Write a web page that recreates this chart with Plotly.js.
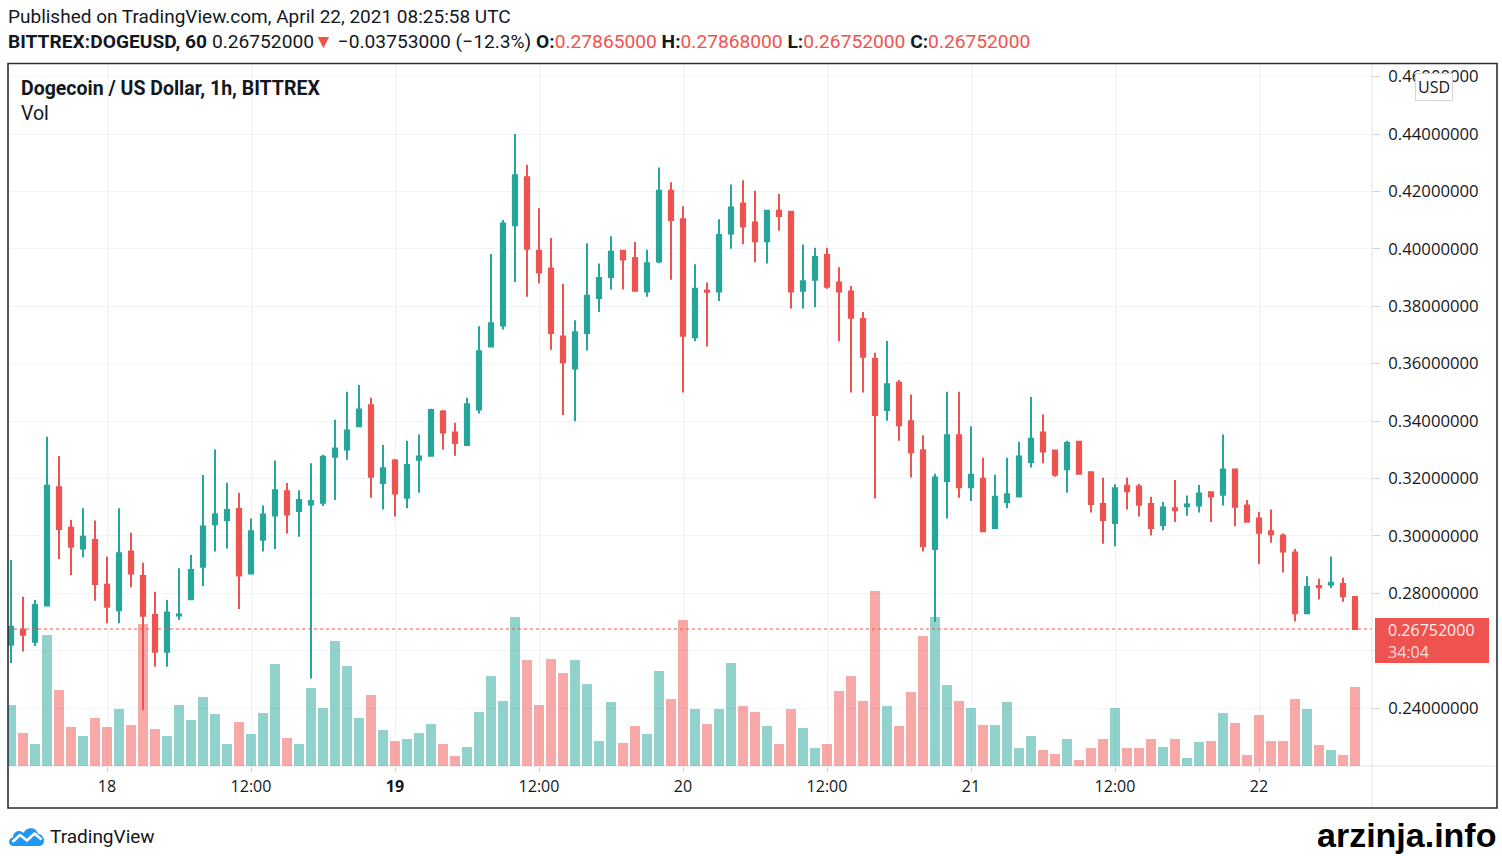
<!DOCTYPE html>
<html>
<head>
<meta charset="utf-8">
<script src="https://cdn.plot.ly/plotly-3.0.1.min.js"></script>
<style>
html,body{margin:0;padding:0;background:#fff;}
#chart{width:1502px;height:856px;}
</style>
</head>
<body>
<div id="chart"></div>
<script>
// Hourly candles BITTREX:DOGEUSD, first candle 2021-04-17 16:00 UTC
const startTime = '2021-04-17T16:00:00Z';
const open = [
0.2620,0.2673,0.2631,0.2757,0.3169,0.3028,0.2956,0.2985,0.2829,0.2741,
0.2945,0.2860,0.2724,0.2596,0.2722,0.2779,0.2892,0.3040,0.3055,0.3093,
0.2869,0.2986,0.3071,0.3155,0.3086,0.3109,0.3115,0.3275,0.3301,0.3382,
0.3455,0.3184,0.3262,0.3133,0.3265,0.3279,0.3433,0.3360,0.3316,0.3440,
0.3660,0.3733,0.4082,0.4249,0.3993,0.3931,0.3694,0.3583,0.3707,0.3829,
0.3902,0.3993,0.3968,0.3851,0.3956,0.4202,0.4103,0.3692,0.3855,0.3851,
0.4053,0.4158,0.4092,0.4026,0.4133,0.4129,0.3854,0.3892,0.3978,0.3883,
0.3851,0.3755,0.3616,0.3438,0.3533,0.3399,0.3298,0.2954,0.3191,0.3350,
0.3169,0.3199,0.3027,0.3118,0.3137,0.3257,0.3360,0.3297,0.3232,0.3328,
0.3221,0.3111,0.3045,0.3174,0.3172,0.3111,0.3038,0.3096,0.3103,0.3106,
0.3152,0.3143,0.3231,0.3106,0.3060,0.3016,0.3001,0.2942,0.2730,0.2825,
0.2830,0.2832,0.27865];
const high = [
0.2916,0.2788,0.2776,0.3345,0.3278,0.3055,0.3096,0.3053,0.2927,0.3096,
0.3011,0.2906,0.2805,0.2776,0.2887,0.2933,0.3212,0.3301,0.3185,0.3150,
0.3060,0.3106,0.3262,0.3184,0.3159,0.3253,0.3282,0.3404,0.3502,0.3525,
0.3481,0.3316,0.3268,0.3331,0.3353,0.3443,0.3438,0.3394,0.3481,0.3730,
0.3982,0.4100,0.4400,0.4293,0.4141,0.4038,0.3877,0.3751,0.4019,0.3949,
0.4044,0.3995,0.4024,0.3997,0.4283,0.4232,0.4148,0.3946,0.3883,0.4103,
0.4224,0.4239,0.4202,0.4135,0.4191,0.4131,0.4015,0.4004,0.4004,0.3936,
0.3870,0.3780,0.3638,0.3679,0.3543,0.3492,0.3350,0.3216,0.3502,0.3502,
0.3382,0.3272,0.3213,0.3272,0.3328,0.3484,0.3423,0.3299,0.3331,0.3330,
0.3224,0.3203,0.3180,0.3203,0.3181,0.3136,0.3118,0.3194,0.3140,0.3177,
0.3154,0.3353,0.3233,0.3125,0.3084,0.3092,0.3008,0.2954,0.2859,0.2850,
0.2928,0.2854,0.27868];
const low = [
0.2557,0.2597,0.2616,0.2755,0.2919,0.2863,0.2925,0.2774,0.2695,0.2695,
0.2821,0.2393,0.2544,0.2544,0.2707,0.2778,0.2825,0.2945,0.2956,0.2745,
0.2865,0.2945,0.2954,0.3008,0.2997,0.2503,0.3104,0.3125,0.3265,0.3380,
0.3133,0.3092,0.3067,0.3096,0.3150,0.3276,0.3301,0.3279,0.3314,0.3426,
0.3658,0.3719,0.3884,0.3833,0.3880,0.3648,0.3421,0.3399,0.3646,0.3780,
0.3858,0.3858,0.3854,0.3833,0.3950,0.3892,0.3499,0.3678,0.3660,0.3818,
0.4000,0.4016,0.3953,0.3949,0.4063,0.3792,0.3792,0.3796,0.3861,0.3678,
0.3499,0.3499,0.3130,0.3401,0.3331,0.3203,0.2945,0.2700,0.3060,0.3133,
0.3121,0.3013,0.3025,0.3096,0.3135,0.3238,0.3253,0.3206,0.3150,0.3214,
0.3081,0.2972,0.2964,0.3092,0.3067,0.3001,0.3019,0.3048,0.3070,0.3081,
0.3048,0.3106,0.3033,0.3049,0.2901,0.2976,0.2872,0.2701,0.2728,0.2778,
0.2818,0.2770,0.26752];
const close = [
0.2683,0.2655,0.2759,0.3174,0.3024,0.2962,0.2997,0.2832,0.2753,0.2939,
0.2869,0.2721,0.2596,0.2733,0.2726,0.2881,0.3032,0.3075,0.3090,0.2862,
0.3016,0.3074,0.3159,0.3074,0.3125,0.3121,0.3275,0.3304,0.3367,0.3440,
0.3206,0.3235,0.3147,0.3247,0.3276,0.3438,0.3360,0.3323,0.3458,0.3643,
0.3741,0.4088,0.4256,0.4000,0.3917,0.3707,0.3605,0.3709,0.3836,0.3898,
0.3990,0.3963,0.3854,0.3950,0.4202,0.4100,0.3697,0.3861,0.3850,0.4048,
0.4144,0.4078,0.4026,0.4133,0.4114,0.3851,0.3887,0.3971,0.3868,0.3851,
0.3760,0.3624,0.3421,0.3528,0.3385,0.3290,0.2964,0.3203,0.3350,0.3169,
0.3213,0.3016,0.3136,0.3145,0.3276,0.3338,0.3294,0.3213,0.3323,0.3216,
0.3111,0.3055,0.3166,0.3155,0.3108,0.3027,0.3099,0.3089,0.3109,0.3147,
0.3137,0.3231,0.3101,0.3049,0.3011,0.3005,0.2945,0.2730,0.2822,0.2821,
0.2836,0.2789,0.26752];
const volume = [
61,33,22,131,76,39,30,48,39,57,
41,142,37,30,61,46,69,52,22,44,
32,53,102,28,22,78,58,125,100,48,
71,36,25,27,33,42,22,10,19,54,
90,65,149,106,61,107,93,106,82,25,
64,23,40,32,95,67,146,57,42,57,
103,60,54,40,22,57,38,18,22,75,
90,65,175,60,40,74,130,149,81,65,
58,41,41,64,18,30,16,12,27,6,
18,27,58,18,18,27,19,27,8,24,
25,53,43,11,51,25,25,67,57,21,
16,11,79];
const timeTickVals = ['2021-04-18 00:00','2021-04-18 12:00','2021-04-19 00:00','2021-04-19 12:00','2021-04-20 00:00','2021-04-20 12:00','2021-04-21 00:00','2021-04-21 12:00','2021-04-22 00:00'];
const timeTickText = ['18','12:00','<b>19</b>','12:00','20','12:00','21','12:00','22'];
const priceTickVals = [0.24,0.26,0.28,0.30,0.32,0.34,0.36,0.38,0.40,0.42,0.44,0.46];
const lastPrice = 0.26752;
const countdown = '34:04';

const UP = '#26a69a', DOWN = '#ef5350';
const t0 = Date.parse(startTime);
const times = open.map((_, i) => new Date(t0 + i * 3600000).toISOString().slice(0, 16).replace('T', ' '));
const volColors = open.map((o, i) => close[i] >= o ? 'rgba(38,166,154,0.5)' : 'rgba(239,83,80,0.5)');

// plot area: x 8..1372, y 64..766
const PL = 8, PR = 1372, PT = 64, PB = 766;
const PW = PR - PL, PH = PB - PT;
const px = x => (x - PL) / PW;
const py = y => (PB - y) / PH;

const traces = [
  {type: 'bar', x: times, y: volume, yaxis: 'y', marker: {color: volColors, line: {width: 0}}, hoverinfo: 'skip', showlegend: false},
  {type: 'candlestick', x: times, open: open, high: high, low: low, close: close, yaxis: 'y2',
   increasing: {line: {color: UP, width: 2}, fillcolor: UP},
   decreasing: {line: {color: DOWN, width: 2}, fillcolor: DOWN},
   whiskerwidth: 0, hoverinfo: 'skip', showlegend: false}
];

const txt = '#131722';
const headerFont = 'Roboto, "Open Sans", sans-serif';
const line2 = '<b>BITTREX:DOGEUSD, 60</b> 0.26752000<span style="color:#ef5350">▼</span> −0.03753000 (−12.3%) ' +
  '<b>O:</b><span style="color:#ef5350">0.27865000</span> <b>H:</b><span style="color:#ef5350">0.27868000</span> ' +
  '<b>L:</b><span style="color:#ef5350">0.26752000</span> <b>C:</b><span style="color:#ef5350">0.26752000</span>';

const logoSvg = "<svg xmlns='http://www.w3.org/2000/svg' width='38' height='22' viewBox='0 0 38 22'>" +
  "<path d='M5 21 C0 21 -0.5 13 5 12.5 C5 6 12 4 15.5 8 C18 1.5 28.5 1.5 30 9 C37 9 38.5 21 31 21 Z' fill='#2196f3'/>" +
  "<path d='M4.5 17 L12 10 L19 15.5 L26.5 8.5 L33.5 14.5' stroke='white' stroke-width='2.6' fill='none' stroke-linejoin='round'/></svg>";

const layout = {
  width: 1502, height: 856,
  margin: {l: PL, r: 1502 - PR, t: PT, b: 856 - PB, pad: 0},
  paper_bgcolor: '#ffffff', plot_bgcolor: '#ffffff',
  showlegend: false,
  bargap: 0.17,
  boxgap: 0.5,
  font: {family: '"Open Sans", sans-serif', color: txt},
  xaxis: {
    type: 'date',
    range: ['2021-04-17 15:45', '2021-04-22 09:25'],
    rangeslider: {visible: false},
    tickmode: 'array', tickvals: timeTickVals, ticktext: timeTickText,
    showgrid: true, gridcolor: '#f0f3fa', gridwidth: 1,
    ticks: 'outside', ticklen: 5, tickcolor: '#d1d4dc',
    ticklabelstandoff: 1,
    tickfont: {size: 16, color: txt, family: '"Open Sans", sans-serif'},
    showline: false, zeroline: false, fixedrange: true
  },
  yaxis: {range: [0, PH], visible: false, fixedrange: true, showgrid: false, zeroline: false},
  yaxis2: {
    overlaying: 'y', side: 'right',
    range: [0.21979, 0.46439],
    tickmode: 'array', tickvals: priceTickVals,
    // the 0.26 label sits under the last-price tag, as in the reference
    ticktext: priceTickVals.map(v => Math.abs(v - 0.26) < 1e-9 ? '' : v.toFixed(8)),
    showgrid: true, gridcolor: '#f0f3fa', gridwidth: 1,
    ticks: 'outside', ticklen: 7, tickcolor: '#d1d4dc',
    ticklabelstandoff: 5,
    tickfont: {size: 16.7, color: txt, family: '"Open Sans", sans-serif'},
    showline: false, zeroline: false, fixedrange: true
  },
  shapes: [
    {type: 'line', xref: 'paper', yref: 'y2', x0: 0, x1: 1, y0: lastPrice, y1: lastPrice,
     line: {color: DOWN, width: 1, dash: 'dot'}, layer: 'above'},
    {type: 'line', xref: 'paper', yref: 'paper', x0: 1, x1: 1, y0: py(808), y1: 1,
     line: {color: '#e0e3eb', width: 1}, layer: 'above'},
    {type: 'line', xref: 'paper', yref: 'paper', x0: 0, x1: px(1497), y0: 0, y1: 0,
     line: {color: '#e0e3eb', width: 1}, layer: 'below'},
    {type: 'rect', xref: 'paper', yref: 'paper', x0: px(1375), x1: px(1489), y0: py(663), y1: py(618),
     line: {width: 0}, fillcolor: DOWN, layer: 'above'},
    {type: 'rect', xref: 'paper', yref: 'paper', x0: px(8), x1: px(1497), y0: py(808), y1: py(63.5),
     line: {color: '#2a2e39', width: 1.6}, fillcolor: 'rgba(0,0,0,0)', layer: 'above'}
  ],
  images: [
    {source: 'data:image/svg+xml;utf8,' + encodeURIComponent(logoSvg),
     xref: 'paper', yref: 'paper', x: px(8), y: py(825), sizex: 38 / PW, sizey: 22 / PH,
     xanchor: 'left', yanchor: 'top', sizing: 'stretch', layer: 'above'}
  ],
  annotations: [
    {xref: 'paper', yref: 'paper', x: px(6), y: py(16), xanchor: 'left', yanchor: 'middle', showarrow: false,
     text: 'Published on TradingView.com, April 22, 2021 08:25:58 UTC', font: {size: 19, color: txt, family: headerFont}},
    {xref: 'paper', yref: 'paper', x: px(6), y: py(42), xanchor: 'left', yanchor: 'middle', showarrow: false,
     text: line2, font: {size: 19.2, color: txt, family: headerFont}},
    {xref: 'paper', yref: 'paper', x: px(19), y: py(88), xanchor: 'left', yanchor: 'middle', showarrow: false,
     text: '<b>Dogecoin / US Dollar, 1h, BITTREX</b>', font: {size: 19.5, color: txt, family: headerFont}},
    {xref: 'paper', yref: 'paper', x: px(19), y: py(113), xanchor: 'left', yanchor: 'middle', showarrow: false,
     text: 'Vol', font: {size: 19.5, color: txt, family: headerFont}},
    {xref: 'paper', yref: 'paper', x: px(1434), y: py(87), xanchor: 'center', yanchor: 'middle', showarrow: false,
     text: 'USD', font: {size: 16, color: txt, family: '"Open Sans", sans-serif'},
     bgcolor: '#ffffff', bordercolor: '#d1d4dc', borderwidth: 1, borderpad: 2},
    {xref: 'paper', yref: 'paper', x: px(1386), y: py(630), xanchor: 'left', yanchor: 'middle', showarrow: false,
     text: lastPrice.toFixed(8), font: {size: 16, color: 'rgba(255,255,255,0.92)', family: '"Open Sans", sans-serif'}},
    {xref: 'paper', yref: 'paper', x: px(1386), y: py(652), xanchor: 'left', yanchor: 'middle', showarrow: false,
     text: countdown, font: {size: 16, color: 'rgba(255,255,255,0.8)', family: '"Open Sans", sans-serif'}},
    {xref: 'paper', yref: 'paper', x: px(48), y: py(836), xanchor: 'left', yanchor: 'middle', showarrow: false,
     text: 'TradingView', font: {size: 19, color: txt, family: headerFont}},
    {xref: 'paper', yref: 'paper', x: px(1498), y: py(835), xanchor: 'right', yanchor: 'middle', showarrow: false,
     text: '<b>arzinja.info</b>', font: {size: 34, color: '#000000', family: '"Liberation Sans", Arial, sans-serif'}}
  ]
};

Plotly.newPlot('chart', traces, layout, {displayModeBar: false, staticPlot: true});
</script>
</body>
</html>
